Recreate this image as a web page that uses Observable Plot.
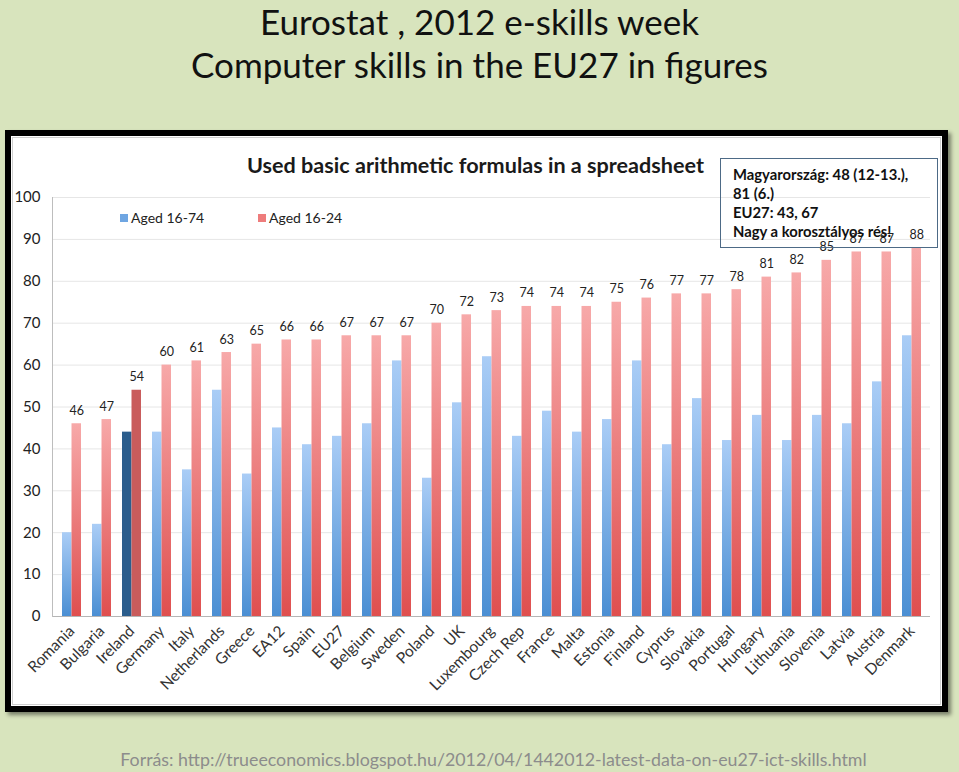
<!DOCTYPE html>
<html>
<head>
<meta charset="utf-8">
<script src="https://cdn.jsdelivr.net/npm/d3@7"></script>
<script src="https://cdn.jsdelivr.net/npm/@observablehq/plot@0.6"></script>
<style>
  html, body { margin: 0; padding: 0; }
  body { width: 959px; height: 772px; background: #d8e4bd; position: relative; overflow: hidden; font-family: Lato, "Open Sans", sans-serif; }
  .title { position: absolute; left: 0; width: 959px; text-align: center; font-size: 35px; line-height: 42px; color: #111; white-space: nowrap; }
  #frame { position: absolute; left: 5px; top: 130px; width: 943px; height: 582px; box-sizing: border-box; border: 6px solid #000; background: #fff; box-shadow: 3px 3px 4px rgba(0,0,0,0.45); }
  #inner { position: absolute; left: 1px; top: 1px; right: 1px; bottom: 1px; border: 1px solid #cfcfcf; }
  #chart { position: absolute; left: 11px; top: 136px; }
  #ctitle { position: absolute; left: 247px; top: 152px; font-size: 21.6px; font-weight: bold; color: #1a1a1a; white-space: nowrap; }
  .leg { position: absolute; top: 209px; font-size: 14px; color: #222; white-space: nowrap; }
  .leg i { display: inline-block; width: 8px; height: 8px; margin-right: 3px; vertical-align: 1px; }
  #note { position: absolute; left: 720px; top: 158px; width: 218px; height: 90px; box-sizing: border-box; border: 1.5px solid #4d6a86; padding: 6px 0 0 12px; font-size: 14.8px; font-weight: bold; line-height: 19px; color: #111; white-space: nowrap; }
  #caption { position: absolute; left: 14px; width: 959px; top: 748px; text-align: center; font-size: 17.8px; color: #8c8c8c; white-space: nowrap; }
</style>
</head>
<body>
<div class="title" style="top:0px">Eurostat , 2012 e-skills week</div>
<div class="title" style="top:43px">Computer skills in the EU27 in figures</div>
<div id="frame"><div id="inner"></div></div>
<div id="chart"></div>
<div id="ctitle">Used basic arithmetic formulas in a spreadsheet</div>
<div class="leg" style="left:120px"><i style="background:#6fa6e2"></i>Aged 16-74</div>
<div class="leg" style="left:258px"><i style="background:#ee7c7c"></i>Aged 16-24</div>
<div id="note">Magyarország: 48 (12-13.),<br>81 (6.)<br>EU27: 43, 67<br>Nagy a korosztályos rés!</div>
<div id="caption">Forrás: http://trueeconomics.blogspot.hu/2012/04/1442012-latest-data-on-eu27-ict-skills.html</div>
<script>
const countries = ["Romania","Bulgaria","Ireland","Germany","Italy","Netherlands","Greece","EA12","Spain","EU27","Belgium","Sweden","Poland","UK","Luxembourg","Czech Rep","France","Malta","Estonia","Finland","Cyprus","Slovakia","Portugal","Hungary","Lithuania","Slovenia","Latvia","Austria","Denmark"];
const aged1674 = [20,22,44,44,35,54,34,45,41,43,46,61,33,51,62,43,49,44,47,61,41,52,42,48,42,48,46,56,67];
const aged1624 = [46,47,54,60,61,63,65,66,66,67,67,67,70,72,73,74,74,74,75,76,77,77,78,81,82,85,87,87,88];
const highlight = "Ireland";
const yTicks = [0,10,20,30,40,50,60,70,80,90,100];

const rows = countries.map((c, i) => ({country: c, young: aged1624[i], all: aged1674[i]}));
const isHi = d => d.country === highlight;
const notHi = d => d.country !== highlight;

const chart = Plot.plot({
  width: 931,
  height: 570,
  marginTop: 61,
  marginBottom: 90,
  marginLeft: 41,
  marginRight: 12,
  style: {fontFamily: "Lato, 'Open Sans', sans-serif", background: "transparent"},
  x: {domain: countries, paddingInner: 0.37, paddingOuter: 0.2, label: null},
  y: {domain: [0, 100], label: null},
  marks: [
    Plot.gridY(yTicks, {stroke: "#e6e6e6", strokeOpacity: 1}),
    Plot.barY(rows, {filter: notHi, x: "country", y: "all", insetRight: 9.5, fill: "url(#gBlue)"}),
    Plot.barY(rows, {filter: notHi, x: "country", y: "young", insetLeft: 9.5, fill: "url(#gRed)"}),
    Plot.barY(rows, {filter: isHi, x: "country", y: "all", insetRight: 9.5, fill: "#2b5d8c"}),
    Plot.barY(rows, {filter: isHi, x: "country", y: "young", insetLeft: 9.5, fill: "#c95c5c"}),
    Plot.text(rows, {x: "country", y: "young", text: d => String(d.young), dx: 4.75, dy: -9, lineAnchor: "bottom", fontSize: 12.5, fill: "#222"}),
    Plot.ruleY([0], {stroke: "#b5b5b5"}),
    Plot.frame({anchor: "left", stroke: "#bdbdbd"}),
    Plot.axisY({ticks: yTicks, tickSize: 0, tickPadding: 12, fontSize: 15, fill: "#222", label: null}),
    Plot.axisX({tickRotate: -45, tickSize: 0, tickPadding: 12, fontSize: 15.5, fill: "#333", label: null})
  ]
});

const defs = d3.select(chart).insert("defs", ":first-child");
function grad(id, top, bottom) {
  const g = defs.append("linearGradient").attr("id", id).attr("x1", 0).attr("y1", 0).attr("x2", 0).attr("y2", 1);
  g.append("stop").attr("offset", "0%").attr("stop-color", top);
  g.append("stop").attr("offset", "100%").attr("stop-color", bottom);
}
grad("gBlue", "#aacdf6", "#4b8fd3");
grad("gRed", "#f7a9a9", "#df4f4f");

document.getElementById("chart").appendChild(chart);
</script>
</body>
</html>
